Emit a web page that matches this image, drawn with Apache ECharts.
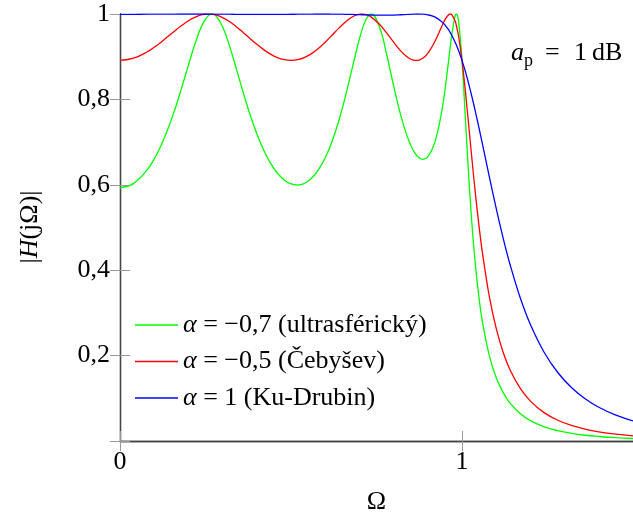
<!DOCTYPE html>
<html>
<head>
<meta charset="utf-8">
<script src="https://cdn.jsdelivr.net/npm/echarts@6/dist/echarts.min.js"></script>
<style>html,body{margin:0;padding:0;background:#fff}#c{width:633px;height:520px}</style>
</head>
<body>
<div id="c"></div>
<script>
const omega = [0, 0.04, 0.08, 0.10, 0.12, 0.14, 0.16, 0.18, 0.20, 0.22, 0.24,
  0.259, 0.269, 0.28, 0.30, 0.32, 0.34, 0.36, 0.38, 0.40, 0.42, 0.44,
  0.46, 0.48, 0.50, 0.52, 0.54, 0.56, 0.58, 0.60, 0.62, 0.64, 0.66, 0.68,
  0.70, 0.707, 0.72, 0.735, 0.76, 0.78, 0.80, 0.82, 0.84, 0.855,
  0.87, 0.885, 0.90, 0.92, 0.94, 0.95, 0.96, 0.966, 0.97, 0.98,
  0.983, 0.99, 1.00,
  1.01, 1.02, 1.03, 1.04, 1.05, 1.06,
  1.08, 1.10, 1.12, 1.14, 1.17, 1.20,
  1.24, 1.28, 1.32, 1.36, 1.40, 1.45, 1.50];
const ultrasfericky = [0.5930, 0.6034, 0.6355, 0.6605, 0.6921, 0.7305, 0.7755, 0.8263, 0.8801, 0.9319, 0.9739,
  0.9967, 1.0000, 0.9961, 0.9703, 0.9260, 0.8723, 0.8169, 0.7651, 0.7197, 0.6815, 0.6509,
  0.6277, 0.6115, 0.6020, 0.5994, 0.6036, 0.6152, 0.6348, 0.6632, 0.7016, 0.7506, 0.8102, 0.8768,
  0.9416, 0.9610, 0.9882, 1.0000, 0.9665, 0.9043, 0.8322, 0.7656, 0.7128, 0.6843,
  0.6662, 0.6594, 0.6654, 0.6981, 0.7683, 0.8211, 0.8850, 0.9256, 0.9513, 0.9963,
  1.0000, 0.9823, 0.8913,
  0.7540, 0.6154, 0.4981, 0.4055, 0.3337, 0.2780,
  0.1994, 0.1485, 0.1139, 0.0894, 0.0643, 0.0477,
  0.0333, 0.0241, 0.0179, 0.0135, 0.0105, 0.0077, 0.0058];
const cebysev = [0.8913, 0.8965, 0.9115, 0.9221, 0.9341, 0.9472, 0.9604, 0.9730, 0.9841, 0.9928, 0.9983,
  1.0000, 0.9995, 0.9978, 0.9917, 0.9823, 0.9704, 0.9569, 0.9428, 0.9291, 0.9166, 0.9060,
  0.8980, 0.8930, 0.8913, 0.8930, 0.8984, 0.9072, 0.9193, 0.9340, 0.9503, 0.9669, 0.9820, 0.9936,
  0.9995, 1.0000, 0.9984, 0.9927, 0.9747, 0.9551, 0.9340, 0.9143, 0.8993, 0.8928,
  0.8914, 0.8963, 0.9080, 0.9346, 0.9697, 0.9863, 0.9978, 1.0000, 0.9988, 0.9836,
  0.9751, 0.9479, 0.8913,
  0.8181, 0.7360, 0.6527, 0.5736, 0.5022, 0.4393,
  0.3380, 0.2636, 0.2086, 0.1676, 0.1236, 0.0934,
  0.0664, 0.0486, 0.0364, 0.0278, 0.0216, 0.0161, 0.0122];
const kuDrubin = [0.9992, 0.9993, 0.9995, 0.9996, 0.9997, 0.9998, 0.9999, 1.0000, 1.0000, 1.0000, 1.0000,
  0.9999, 0.9998, 0.9998, 0.9996, 0.9995, 0.9993, 0.9992, 0.9991, 0.9990, 0.9990, 0.9990,
  0.9991, 0.9992, 0.9994, 0.9995, 0.9997, 0.9999, 1.0000, 1.0000, 0.9999, 0.9997, 0.9993, 0.9989,
  0.9984, 0.9982, 0.9978, 0.9975, 0.9972, 0.9972, 0.9975, 0.9982, 0.9990, 0.9997,
  1.0000, 0.9997, 0.9982, 0.9932, 0.9826, 0.9744, 0.9638, 0.9561, 0.9504, 0.9340,
  0.9284, 0.9143, 0.8913,
  0.8649, 0.8353, 0.8030, 0.7684, 0.7320, 0.6945,
  0.6185, 0.5448, 0.4763, 0.4146, 0.3359, 0.2726,
  0.2079, 0.1604, 0.1252, 0.0989, 0.0790, 0.0604, 0.0469];
const seriesNames = ['α = −0,7 (ultrasférický)', 'α = −0,5 (Čebyšev)', 'α = 1 (Ku-Drubin)'];
const xTickLabels = ['0', '1'];
const yTickLabels = ['0,2', '0,4', '0,6', '0,8', '1'];

const FONT = 'Liberation Serif';
const FS = 26;
const chart = echarts.init(document.getElementById('c'), null, {renderer: 'canvas'});

function xFmt(v) { const s = String(Math.round(v * 10) / 10); return xTickLabels.indexOf(s) >= 0 ? s : ''; }
function yFmt(v) { const s = (Math.abs(v - 1) < 1e-9) ? '1' : v.toFixed(1).replace('.', ','); return yTickLabels.indexOf(s) >= 0 ? s : ''; }

const axisLine = {show: true, lineStyle: {color: '#444', width: 1.3}};
const axisTick = {show: true, inside: true, length: 10, lineStyle: {color: '#999', width: 1}};
const labelStyle = {fontFamily: FONT, fontSize: FS, color: '#000'};

const colors = ['#00ff00', '#ff0000', '#0000ff'];
const values = [ultrasfericky, cebysev, kuDrubin];

chart.setOption({
  animation: false,
  grid: {left: 120, top: 14, width: 517.5, height: 430.5, containLabel: false},
  xAxis: [
    {type: 'value', min: 0, max: 1.5, interval: 1, position: 'bottom',
     axisLine: axisLine, axisTick: axisTick, splitLine: {show: false},
     axisLabel: Object.assign({formatter: xFmt, margin: 8, showMaxLabel: false}, labelStyle),
     name: 'Ω', nameLocation: 'middle', nameGap: 48, nameTextStyle: labelStyle},
    {type: 'value', min: 0, max: 1.5, interval: 1, position: 'top',
     axisLine: axisLine, axisTick: axisTick, splitLine: {show: false}, axisLabel: {show: false}}
  ],
  yAxis: [
    {type: 'value', min: 0, max: 1, interval: 0.2, position: 'left',
     axisLine: axisLine, axisTick: axisTick, splitLine: {show: false},
     axisLabel: Object.assign({formatter: yFmt, margin: 10}, labelStyle)},
    {type: 'value', min: 0, max: 1, interval: 0.2, position: 'right',
     axisLine: axisLine, axisTick: axisTick, splitLine: {show: false}, axisLabel: {show: false}}
  ],
  legend: {
    orient: 'vertical', left: 130, top: 307, itemGap: 10.5,
    icon: 'rect', itemWidth: 43, itemHeight: 1.5,
    data: seriesNames,
    formatter: function (name) { return name.replace('α', '{i|α}'); },
    textStyle: {fontFamily: FONT, fontSize: FS, color: '#000', lineHeight: 26,
      rich: {i: {fontFamily: FONT, fontSize: FS, fontStyle: 'italic', color: '#000', lineHeight: 26}}}
  },
  graphic: [
    {type: 'text', left: 511, top: 40, style: {text: 'a', fontFamily: FONT, fontSize: FS, fontStyle: 'italic', fill: '#000'}},
    {type: 'text', left: 524, top: 52, style: {text: 'p', fontFamily: FONT, fontSize: 18, fill: '#000'}},
    {type: 'text', left: 545, top: 40, style: {text: '=', fontFamily: FONT, fontSize: FS, fill: '#000'}},
    {type: 'text', left: 574, top: 40, style: {text: '1', fontFamily: FONT, fontSize: FS, fill: '#000'}},
    {type: 'text', left: 592, top: 40, style: {text: 'dB', fontFamily: FONT, fontSize: FS, fill: '#000'}},
    {type: 'text', x: 30, y: 227, rotation: Math.PI / 2,
     style: {text: '|{i|H}(jΩ)|', fontFamily: FONT, fontSize: FS, fill: '#000', align: 'center', verticalAlign: 'middle',
       rich: {i: {fontFamily: FONT, fontSize: FS, fontStyle: 'italic', fill: '#000'}}}}
  ],
  series: values.map(function (arr, k) {
    return {
      name: seriesNames[k], type: 'line', xAxisIndex: 0, yAxisIndex: 0,
      showSymbol: false, smooth: 0.4, color: colors[k],
      lineStyle: {color: colors[k], width: 1.3},
      data: omega.map(function (x, i) { return [x, arr[i]]; })
    };
  })
});
</script>
</body>
</html>
